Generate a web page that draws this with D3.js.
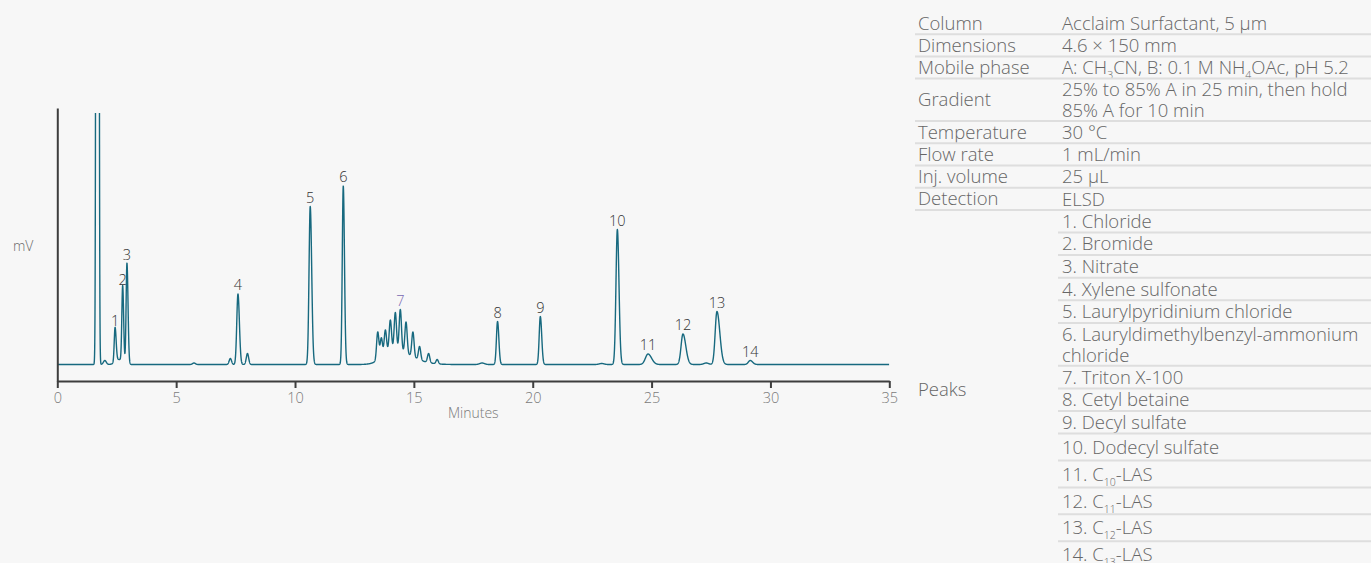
<!DOCTYPE html>
<html>
<head>
<meta charset="utf-8">
<script src="https://cdn.jsdelivr.net/npm/d3@7"></script>
<style>
  html, body { margin: 0; padding: 0; background: #f7f7f7; }
  svg { display: block; font-family: "Open Sans", "Liberation Sans", Arial, sans-serif; font-weight: 300; }
</style>
</head>
<body>
<svg id="chart" width="1371" height="563"></svg>
<script>
// ---------- Chromatogram data ----------
// Numbered analyte peaks: retention time (min), apex height (mV above baseline),
// leading / trailing half-widths (min)
const peakNumbers = ["1", "2", "3", "4", "5", "6", "8", "9", "10", "11", "12", "13", "14"];
const peakTimes   = [2.43, 2.75, 2.93, 7.60, 10.64, 12.03, 18.52, 20.32, 23.56, 24.85, 26.32, 27.75, 29.15];
const peakHeights = [34.5, 76, 101, 70.5, 158, 178.5, 43, 48, 135, 10.5, 30.5, 53, 4];
const peakLead    = [0.035, 0.035, 0.035, 0.05, 0.05, 0.042, 0.047, 0.048, 0.058, 0.11, 0.08, 0.075, 0.08];
const peakTail    = [0.045, 0.040, 0.045, 0.06, 0.062, 0.05, 0.055, 0.058, 0.068, 0.15, 0.12, 0.12, 0.10];

// Peak 7 (Triton X-100): oligomer series riding on a broad envelope
const tritonTimes   = [13.48, 13.63, 13.80, 14.01, 14.22, 14.43, 14.67, 14.96, 15.24, 15.62, 15.98];
const tritonHeights = [32.5, 26.5, 34.5, 44.5, 52, 55, 42.5, 32.5, 18, 11, 5];
const tritonWidth = 0.048;
const tritonEnvelope = { time: 14.1, height: 15, lead: 0.4, tail: 0.75 };

// Unretained (void) peak – saturates the detector
const voidPeak = { time: 1.69, height: 4500, lead: 0.035, tail: 0.035 };

// Small unlabelled disturbances along the baseline
const minorTimes   = [2.0, 2.6, 5.75, 7.28, 8.0, 17.87, 22.9, 27.3];
const minorHeights = [4, 5, 1.5, 6, 11, 1.5, 1, 1.5];
const minorWidths  = [0.06, 0.15, 0.06, 0.05, 0.05, 0.1, 0.1, 0.1];

const xTicks = [0, 5, 10, 15, 20, 25, 30, 35];

// ---------- Conditions / peak table ----------
const conditionLabels = ["Column", "Dimensions", "Mobile phase", "Gradient", "Temperature", "Flow rate", "Inj. volume", "Detection"];
const conditionValues = [
  ["Acclaim Surfactant, 5 µm"],
  ["4.6 × 150 mm"],
  ["A: CH_{3}CN, B: 0.1 M NH_{4}OAc, pH 5.2"],
  ["25% to 85% A in 25 min, then hold", "85% A for 10 min"],
  ["30 °C"],
  ["1 mL/min"],
  ["25 µL"],
  ["ELSD"]
];
const peaksHeader = "Peaks";
const peakNames = [
  ["1. Chloride"],
  ["2. Bromide"],
  ["3. Nitrate"],
  ["4. Xylene sulfonate"],
  ["5. Laurylpyridinium chloride"],
  ["6. Lauryldimethylbenzyl-ammonium", "chloride"],
  ["7. Triton X-100"],
  ["8. Cetyl betaine"],
  ["9. Decyl sulfate"],
  ["10. Dodecyl sulfate"],
  ["11. C_{10}-LAS"],
  ["12. C_{11}-LAS"],
  ["13. C_{12}-LAS"],
  ["14. C_{13}-LAS"]
];

// ---------- Drawing ----------
const svg = d3.select("#chart");
const traceColor = "#17697f";
const axisColor = "#3e3e3e";

const x = d3.scaleLinear().domain([0, 35]).range([57.3, 889.3]);
const y = d3.scaleLinear().domain([-16.5, 251.5]).range([381, 113]);

// asymmetric Gaussian peak shape
function peakShape(t, t0, h, sl, sr) {
  const d = t - t0;
  const s = d < 0 ? sl : sr;
  return h * Math.exp(-(d * d) / (2 * s * s));
}
const envAt = t => peakShape(t, tritonEnvelope.time, tritonEnvelope.height, tritonEnvelope.lead, tritonEnvelope.tail);

function signal(t) {
  let v = peakShape(t, voidPeak.time, voidPeak.height, voidPeak.lead, voidPeak.tail);
  peakTimes.forEach((t0, i) => { v += peakShape(t, t0, peakHeights[i], peakLead[i], peakTail[i]); });
  minorTimes.forEach((t0, i) => { v += peakShape(t, t0, minorHeights[i], minorWidths[i], minorWidths[i]); });
  v += envAt(t);
  tritonTimes.forEach((t0, i) => {
    const h = tritonHeights[i] - envAt(t0);
    v += peakShape(t, t0, h, tritonWidth, tritonWidth);
  });
  return v;
}

const times = d3.range(0, 35.0001, 0.004);
const trace = times.map(t => [t, signal(t)]);

svg.append("clipPath").attr("id", "plot-clip")
  .append("rect")
  .attr("x", x(0)).attr("y", y(251.5))
  .attr("width", x(35) - x(0)).attr("height", y(-16.5) - y(251.5));

svg.append("path")
  .datum(trace)
  .attr("clip-path", "url(#plot-clip)")
  .attr("fill", "none")
  .attr("stroke", traceColor)
  .attr("stroke-width", 1.4)
  .attr("stroke-linejoin", "round")
  .attr("d", d3.line().x(d => x(d[0])).y(d => y(d[1])));

// x axis
const xAxis = svg.append("g")
  .attr("transform", `translate(0,${y(-16.5)})`)
  .call(d3.axisBottom(x).tickValues(xTicks).tickSize(7).tickSizeOuter(0).tickPadding(5));
xAxis.select(".domain").attr("stroke", axisColor).attr("stroke-width", 2);
xAxis.selectAll(".tick line").attr("stroke", axisColor).attr("stroke-width", 2);
xAxis.selectAll(".tick text")
  .attr("fill", "#7a7a7a")
  .style("font-size", "14.5px");

// y axis (no tick labels)
const yAxisScale = y.copy().domain([-16.5, 256.5]).range([381, 108]);
const yAxis = svg.append("g")
  .attr("transform", `translate(${x(0)},0)`)
  .call(d3.axisLeft(yAxisScale).tickValues([]).tickSizeOuter(0));
yAxis.select(".domain").attr("stroke", axisColor).attr("stroke-width", 2);
xAxis.attr("font-family", null);
yAxis.attr("font-family", null);

svg.append("text")
  .attr("x", (x(0) + x(35)) / 2).attr("y", 418)
  .attr("text-anchor", "middle")
  .attr("fill", "#7a7a7a")
  .style("font-size", "14px")
  .text("Minutes");

svg.append("text")
  .attr("x", 13).attr("y", 251)
  .attr("fill", "#6a6a6a")
  .style("font-size", "14px")
  .text("mV");

// peak labels
const iTop = d3.maxIndex(tritonHeights);
const labelData = peakNumbers.map((n, i) => ({ n, t: peakTimes[i], h: peakHeights[i], c: "#333333" }));
labelData.splice(6, 0, { n: "7", t: tritonTimes[iTop], h: tritonHeights[iTop], c: "#7767b1" });

svg.append("g").selectAll("text")
  .data(labelData)
  .join("text")
  .attr("x", d => x(d.t))
  .attr("y", d => y(d.h) - 4)
  .attr("text-anchor", "middle")
  .attr("fill", d => d.c)
  .style("font-size", "14.5px")
  .text(d => d.n);

// ---------- Table ----------
const table = svg.append("g");
const tableLeft = 915, labelX = 918, valueX = 1062, valueLineX = 1058, tableRight = 1371;
const textColor = "#666666";
const ruleColor = "#dedede";
const fs = 18.5;

// writes a string with _{..} subscripts into a text element,
// condensing it when it would overrun the right edge of the table
function richText(sel, str) {
  const parts = str.split(/_\{([^}]*)\}/);
  parts.forEach((p, i) => {
    if (p === "") return;
    if (i % 2 === 1) {
      sel.append("tspan").attr("dy", 5).style("font-size", "10.5px").text(p);
    } else {
      const ts = sel.append("tspan").text(p);
      if (i > 0) ts.attr("dy", -5);
    }
  });
  const avail = tableRight - 5 - valueX;
  const w = sel.node().getComputedTextLength();
  if (w > avail) sel.attr("textLength", avail).attr("lengthAdjust", "spacingAndGlyphs");
}

let rowTop = 12;
conditionLabels.forEach((lab, i) => {
  const lines = conditionValues[i];
  const h = 22.2 + (lines.length - 1) * 20.3;
  table.append("text")
    .attr("x", labelX).attr("y", rowTop + h / 2 + 6.6)
    .attr("fill", textColor).style("font-size", fs + "px")
    .text(lab);
  lines.forEach((ln, j) => {
    const t = table.append("text")
      .attr("x", valueX).attr("y", rowTop + 17.8 + j * 21)
      .attr("fill", textColor).style("font-size", fs + "px");
    richText(t, ln);
  });
  rowTop += h;
  table.append("line")
    .attr("x1", tableLeft).attr("x2", tableRight)
    .attr("y1", rowTop).attr("y2", rowTop)
    .attr("stroke", ruleColor).attr("stroke-width", 2);
});

const peaksTop = rowTop;
peakNames.forEach((lines, i) => {
  const tall = i >= 9;
  const h = (tall ? 26.9 : 22.6) + (lines.length - 1) * 20.3;
  lines.forEach((ln, j) => {
    const t = table.append("text")
      .attr("x", valueX).attr("y", rowTop + 17.9 + (tall ? 2.2 : 0) + j * 21)
      .attr("fill", textColor).style("font-size", fs + "px");
    richText(t, ln);
  });
  rowTop += h;
  table.append("line")
    .attr("x1", valueLineX).attr("x2", tableRight)
    .attr("y1", rowTop).attr("y2", rowTop)
    .attr("stroke", ruleColor).attr("stroke-width", 2);
});

table.append("text")
  .attr("x", labelX).attr("y", (peaksTop + rowTop) / 2 + 6.6)
  .attr("fill", textColor).style("font-size", fs + "px")
  .text(peaksHeader);
</script>
</body>
</html>
